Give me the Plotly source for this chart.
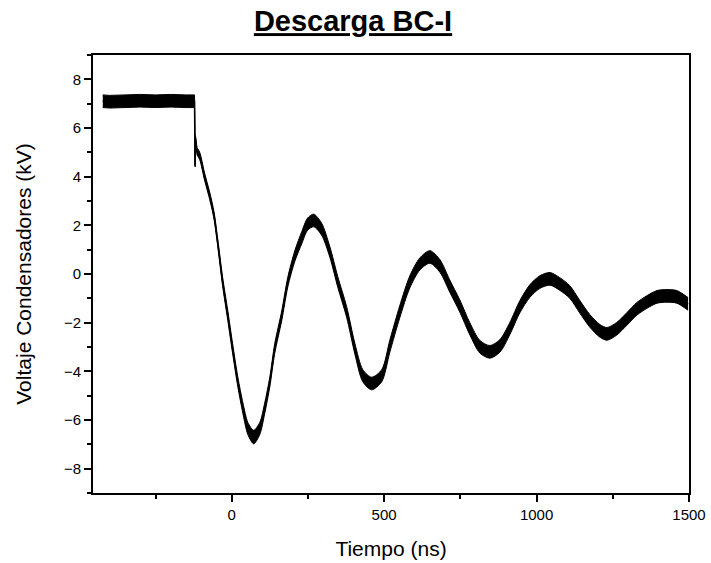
import plotly.graph_objects as go

# --- data ---
# flat pre-discharge segment plus the step (linear)
t_step = [-423, -400, -350, -300, -250, -200, -150, -122, -120, -119, -114]
v_step = [7.1, 7.08, 7.1, 7.12, 7.1, 7.12, 7.1, 7.1, 4.45, 5.6, 5.05]
n_step = [0.26, 0.26, 0.26, 0.26, 0.26, 0.26, 0.26, 0.26, 0.05, 0.1, 0.15]

# damped oscillation (time in ns, voltage in kV, half noise band in kV)
t_osc = [-114, -105, -89, -72, -58, -46, -30, -13, 3, 20, 37, 53, 72, 92, 108,
         125, 141, 164, 184, 207, 230, 249, 269, 295, 322, 348, 377, 404, 430,
         459, 492, 519, 551, 584, 617, 650, 683, 715, 748, 781, 814, 847, 880,
         912, 945, 978, 1011, 1044, 1076, 1109, 1142, 1175, 1208, 1231, 1263,
         1296, 1329, 1362, 1395, 1428, 1460, 1497]
v_osc = [5.05, 4.85, 4.0, 3.2, 2.4, 1.3, -0.3, -1.7, -3.07, -4.43, -5.53, -6.35,
         -6.7, -6.35, -5.53, -4.43, -3.07, -1.72, -0.33, 0.74, 1.5, 2.05, 2.2,
         1.84, 0.9, -0.33, -1.56, -3.07, -4.18, -4.5, -4.18, -2.95, -1.56, -0.33,
         0.41, 0.7, 0.33, -0.49, -1.31, -2.25, -2.99, -3.2, -2.95, -2.25, -1.35,
         -0.7, -0.33, -0.2, -0.41, -0.74, -1.35, -1.93, -2.34, -2.46, -2.25,
         -1.85, -1.43, -1.15, -0.94, -0.9, -0.94, -1.23]
n_osc = [0.15, 0.15, 0.15, 0.15, 0.15, 0.15, 0.18, 0.2, 0.2, 0.2, 0.22, 0.25,
         0.28, 0.25, 0.22, 0.2, 0.2, 0.2, 0.2, 0.22, 0.25, 0.25, 0.26, 0.25,
         0.22, 0.22, 0.22, 0.22, 0.25, 0.26, 0.25, 0.25, 0.25, 0.25, 0.25, 0.26,
         0.26, 0.25, 0.25, 0.25, 0.26, 0.26, 0.26, 0.25, 0.25, 0.26, 0.26, 0.26,
         0.26, 0.26, 0.26, 0.26, 0.26, 0.26, 0.26, 0.26, 0.26, 0.26, 0.26, 0.26,
         0.26, 0.26]

x_ticks = [0, 500, 1000, 1500]
x_minor = [-250, 250, 750, 1250]
y_ticks = [-8, -6, -4, -2, 0, 2, 4, 6, 8]
y_minor = [-9, -7, -5, -3, -1, 1, 3, 5, 7, 9]

FONT = "Arial, Liberation Sans, sans-serif"
fig = go.Figure()


def add_band(t, v, n, shape):
    hi = [a + b for a, b in zip(v, n)]
    lo = [a - b for a, b in zip(v, n)]
    fig.add_trace(go.Scatter(x=t, y=hi, mode="lines",
                             line=dict(color="black", width=1, shape=shape, smoothing=0.8),
                             hoverinfo="skip", showlegend=False))
    fig.add_trace(go.Scatter(x=t, y=lo, mode="lines", fill="tonexty",
                             fillcolor="black",
                             line=dict(color="black", width=1, shape=shape, smoothing=0.8),
                             hoverinfo="skip", showlegend=False))
    fig.add_trace(go.Scatter(x=t, y=v, mode="lines",
                             line=dict(color="black", width=1.5, shape=shape, smoothing=0.8),
                             showlegend=False))


add_band(t_step, v_step, n_step, "linear")
add_band(t_osc, v_osc, n_osc, "spline")

axis_common = dict(showgrid=False, zeroline=False, showline=True, mirror=True,
                   linecolor="black", linewidth=2, ticks="outside", ticklen=7,
                   tickwidth=2, tickcolor="black",
                   tickfont=dict(family=FONT, size=15, color="black"),
                   automargin=False)

fig.update_layout(
    width=711, height=563,
    margin=dict(l=93, r=22, t=55, b=70),
    paper_bgcolor="white", plot_bgcolor="white",
    title=dict(text="<b><u>Descarga BC-I</u></b>", x=353 / 711, xref="container",
               xanchor="center", y=1 - 21 / 563, yref="container", yanchor="middle",
               font=dict(family=FONT, size=29, color="black")),
    xaxis=dict(range=[-455, 1500], tickvals=x_ticks,
               minor=dict(tickvals=x_minor, ticks="outside", ticklen=4, tickwidth=2,
                          tickcolor="black"),
               title=dict(text="Tiempo (ns)", standoff=19,
                          font=dict(family=FONT, size=21, color="black")),
               **axis_common),
    yaxis=dict(range=[-9, 9], tickvals=y_ticks,
               minor=dict(tickvals=y_minor, ticks="outside", ticklen=4, tickwidth=2,
                          tickcolor="black"),
               title=dict(text="Voltaje Condensadores (kV)", standoff=27,
                          font=dict(family=FONT, size=21, color="black")),
               **axis_common),
    xaxis2=dict(overlaying="x", side="top", anchor="y", range=[-455, 1500],
                tickvals=[525], ticks="inside", ticklen=5, tickwidth=2,
                tickcolor="black", showticklabels=False, showgrid=False,
                zeroline=False, showline=False),
    yaxis2=dict(overlaying="y", side="right", anchor="x", range=[-9, 9],
                tickvals=[0], ticks="inside", ticklen=5, tickwidth=2,
                tickcolor="black", showticklabels=False, showgrid=False,
                zeroline=False, showline=False),
)

fig.write_html("out.html")
